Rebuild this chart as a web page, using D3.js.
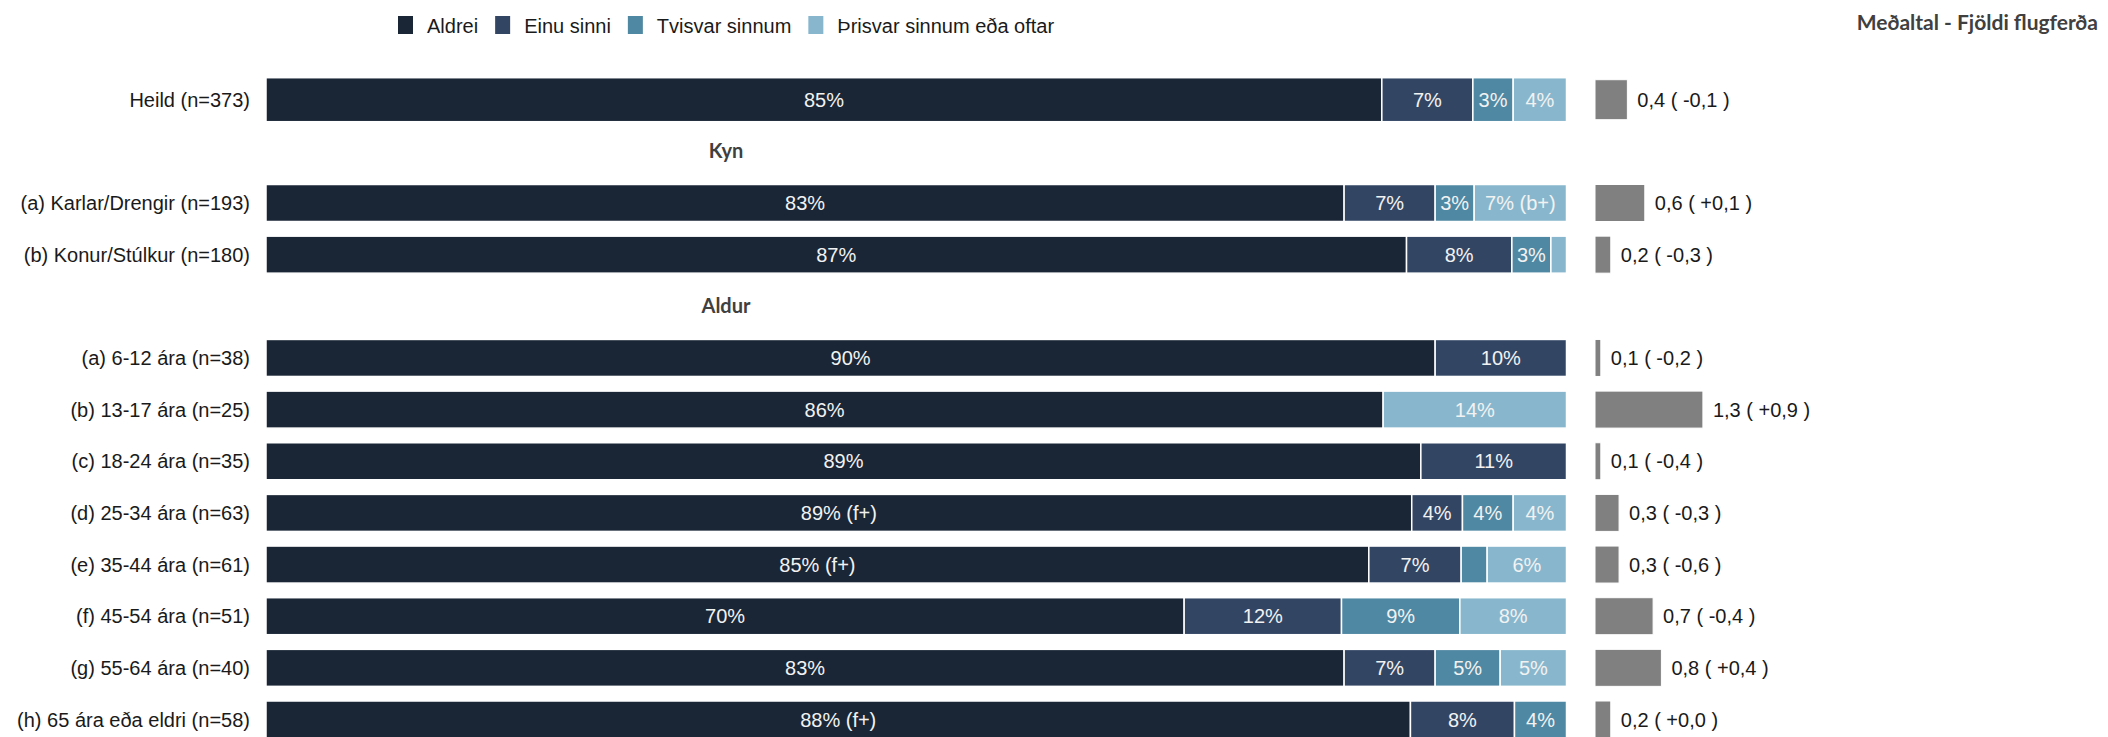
<!DOCTYPE html>
<html>
<head>
<meta charset="utf-8">
<script src="https://cdn.jsdelivr.net/npm/d3@7"></script>
<style>
  html, body { margin: 0; padding: 0; background: #ffffff; }
  svg { display: block; }
</style>
</head>
<body>
<svg id="chart" width="2108" height="737"></svg>
<script>
// ---------- DATA ----------
const rows = ["Heild", "Kyn", "Karlar", "Konur", "Aldur", "a612", "b1317", "c1824", "d2534", "e3544", "f4554", "g5564", "h65"];
const headerRows = ["Kyn", "Aldur"];
const headerLabels = ["Kyn", "Aldur"];
const dataRows = ["Heild", "Karlar", "Konur", "a612", "b1317", "c1824", "d2534", "e3544", "f4554", "g5564", "h65"];
const rowLabels = ["Heild (n=373)", "(a) Karlar/Drengir (n=193)", "(b) Konur/Stúlkur (n=180)",
  "(a) 6-12 ára (n=38)", "(b) 13-17 ára (n=25)", "(c) 18-24 ára (n=35)", "(d) 25-34 ára (n=63)",
  "(e) 35-44 ára (n=61)", "(f) 45-54 ára (n=51)", "(g) 55-64 ára (n=40)", "(h) 65 ára eða eldri (n=58)"];

const seriesNames = ["Aldrei", "Einu sinni", "Tvisvar sinnum", "Þrisvar sinnum eða oftar"];
const aldrei   = [85.8, 82.9, 87.7, 89.9, 85.9, 88.8, 88.1, 84.8, 70.6, 82.9, 88.0];
const einu     = [7.0, 7.0, 8.1, 10.1, 0, 11.2, 3.9, 7.1, 12.1, 7.0, 8.0];
const tvisvar  = [3.1, 3.0, 3.0, 0, 0, 0, 3.9, 2.0, 9.1, 5.0, 4.0];
const thrisvar = [4.1, 7.1, 1.2, 0, 14.1, 0, 4.1, 6.1, 8.2, 5.1, 0];

const aldreiLbl   = ["85%", "83%", "87%", "90%", "86%", "89%", "89% (f+)", "85% (f+)", "70%", "83%", "88% (f+)"];
const einuLbl     = ["7%", "7%", "8%", "10%", "", "11%", "4%", "7%", "12%", "7%", "8%"];
const tvisvarLbl  = ["3%", "3%", "3%", "", "", "", "4%", "", "9%", "5%", "4%"];
const thrisvarLbl = ["4%", "7% (b+)", "", "", "14%", "", "4%", "6%", "8%", "5%", ""];

const meanValues = [0.39, 0.60, 0.19, 0.07, 1.30, 0.07, 0.29, 0.29, 0.70, 0.80, 0.19];
const meanDiffs  = [-0.1, 0.1, -0.3, -0.2, 0.9, -0.4, -0.3, -0.6, -0.4, 0.4, 0.0];
const meanTitle = "Meðaltal - Fjöldi flugferða";

// ---------- STYLE ----------
const colors = ["#1a2636", "#324664", "#4f88a2", "#88b7cd"];
const meanColor = "#808080";
const font = "'Liberation Sans', Arial, sans-serif";
const fontSize = 20;
const boldFont = "Lato, 'Open Sans', sans-serif";

const svg = d3.select("#chart");

// ---------- SCALES ----------
const y = d3.scalePoint().domain(rows).range([99.7, 719.5]);
const x = d3.scaleLinear().domain([0, 100]).range([266, 1566.5]);
const xm = d3.scaleLinear().domain([0, 1]).range([0, 83]);
const meanX0 = 1595;
const barH = r => r === "Heild" ? 44 : 37;

const series = [aldrei, einu, tvisvar, thrisvar];
const labels = [aldreiLbl, einuLbl, tvisvarLbl, thrisvarLbl];

const table = dataRows.map((r, i) => {
  const obj = { row: r, label: rowLabels[i] };
  seriesNames.forEach((s, k) => { obj[s] = series[k][i]; });
  return obj;
});
const stacked = d3.stack().keys(seriesNames)(table);

// ---------- STACKED BARS ----------
const gBars = svg.append("g");
stacked.forEach((layer, k) => {
  const g = gBars.append("g");
  g.selectAll("rect").data(layer.filter(d => d[1] - d[0] > 0)).join("rect")
    .attr("x", d => x(d[0]))
    .attr("width", d => x(d[1]) - x(d[0]))
    .attr("y", d => y(d.data.row) - barH(d.data.row) / 2)
    .attr("height", d => barH(d.data.row))
    .attr("fill", colors[k])
    .attr("stroke", "#ffffff")
    .attr("stroke-width", 1.5);
  g.selectAll("text").data(layer.map((d, i) => ({ d, t: labels[k][i] })).filter(o => o.t !== "")).join("text")
    .attr("x", o => (x(o.d[0]) + x(o.d[1])) / 2)
    .attr("y", o => y(o.d.data.row))
    .attr("dy", "0.35em")
    .attr("text-anchor", "middle")
    .attr("font-family", font)
    .attr("font-size", fontSize)
    .attr("fill", "#f2f2f2")
    .text(o => o.t);
});

// ---------- ROW LABELS ----------
svg.append("g").selectAll("text").data(table).join("text")
  .attr("x", 250)
  .attr("y", d => y(d.row))
  .attr("dy", "0.35em")
  .attr("text-anchor", "end")
  .attr("font-family", font)
  .attr("font-size", fontSize)
  .attr("fill", "#1a1a1a")
  .text(d => d.label);

// ---------- HEADERS ----------
svg.append("g").selectAll("text").data(headerRows).join("text")
  .attr("x", 726)
  .attr("y", d => y(d))
  .attr("dy", "0.35em")
  .attr("text-anchor", "middle")
  .attr("font-family", boldFont)
  .attr("font-weight", 700)
  .attr("font-size", 20)
  .attr("fill", "#404040")
  .text((d, i) => headerLabels[i]);

// ---------- MEAN BARS ----------
const fmt = v => v.toFixed(1).replace(".", ",");
const fmtDiff = v => (v >= 0 ? "+" : "-") + Math.abs(v).toFixed(1).replace(".", ",");
const meanData = dataRows.map((r, i) => ({ row: r, v: meanValues[i], diff: meanDiffs[i] }));
const gMean = svg.append("g");
gMean.selectAll("rect").data(meanData).join("rect")
  .attr("x", meanX0)
  .attr("width", d => xm(d.v))
  .attr("y", d => y(d.row) - (d.row === "Heild" ? 40 : 37) / 2)
  .attr("height", d => d.row === "Heild" ? 40 : 37)
  .attr("fill", meanColor)
  .attr("stroke", "#ffffff")
  .attr("stroke-width", 1);
gMean.selectAll("text").data(meanData).join("text")
  .attr("x", d => meanX0 + xm(d.v) + 10)
  .attr("y", d => y(d.row))
  .attr("dy", "0.35em")
  .attr("font-family", font)
  .attr("font-size", fontSize)
  .attr("fill", "#1a1a1a")
  .attr("xml:space", "preserve")
  .style("white-space", "pre")
  .text(d => fmt(d.v) + " ( " + fmtDiff(d.diff) + " )");

// ---------- TITLE ----------
svg.append("text")
  .attr("x", 2098)
  .attr("y", 23)
  .attr("dy", "0.35em")
  .attr("text-anchor", "end")
  .attr("font-family", boldFont)
  .attr("font-weight", 700)
  .attr("font-size", 21)
  .attr("fill", "#404040")
  .text(meanTitle);

// ---------- LEGEND ----------
const gLeg = svg.append("g");
let lx = 398;
seriesNames.forEach((s, k) => {
  gLeg.append("rect").attr("x", lx).attr("y", 16).attr("width", 15).attr("height", 18).attr("fill", colors[k]);
  const t = gLeg.append("text")
    .attr("x", lx + 29).attr("y", 25.5).attr("dy", "0.35em")
    .attr("font-family", font).attr("font-size", 20).attr("fill", "#1a1a1a")
    .text(s);
  lx += 29 + t.node().getComputedTextLength() + 17;
});
</script>
</body>
</html>
